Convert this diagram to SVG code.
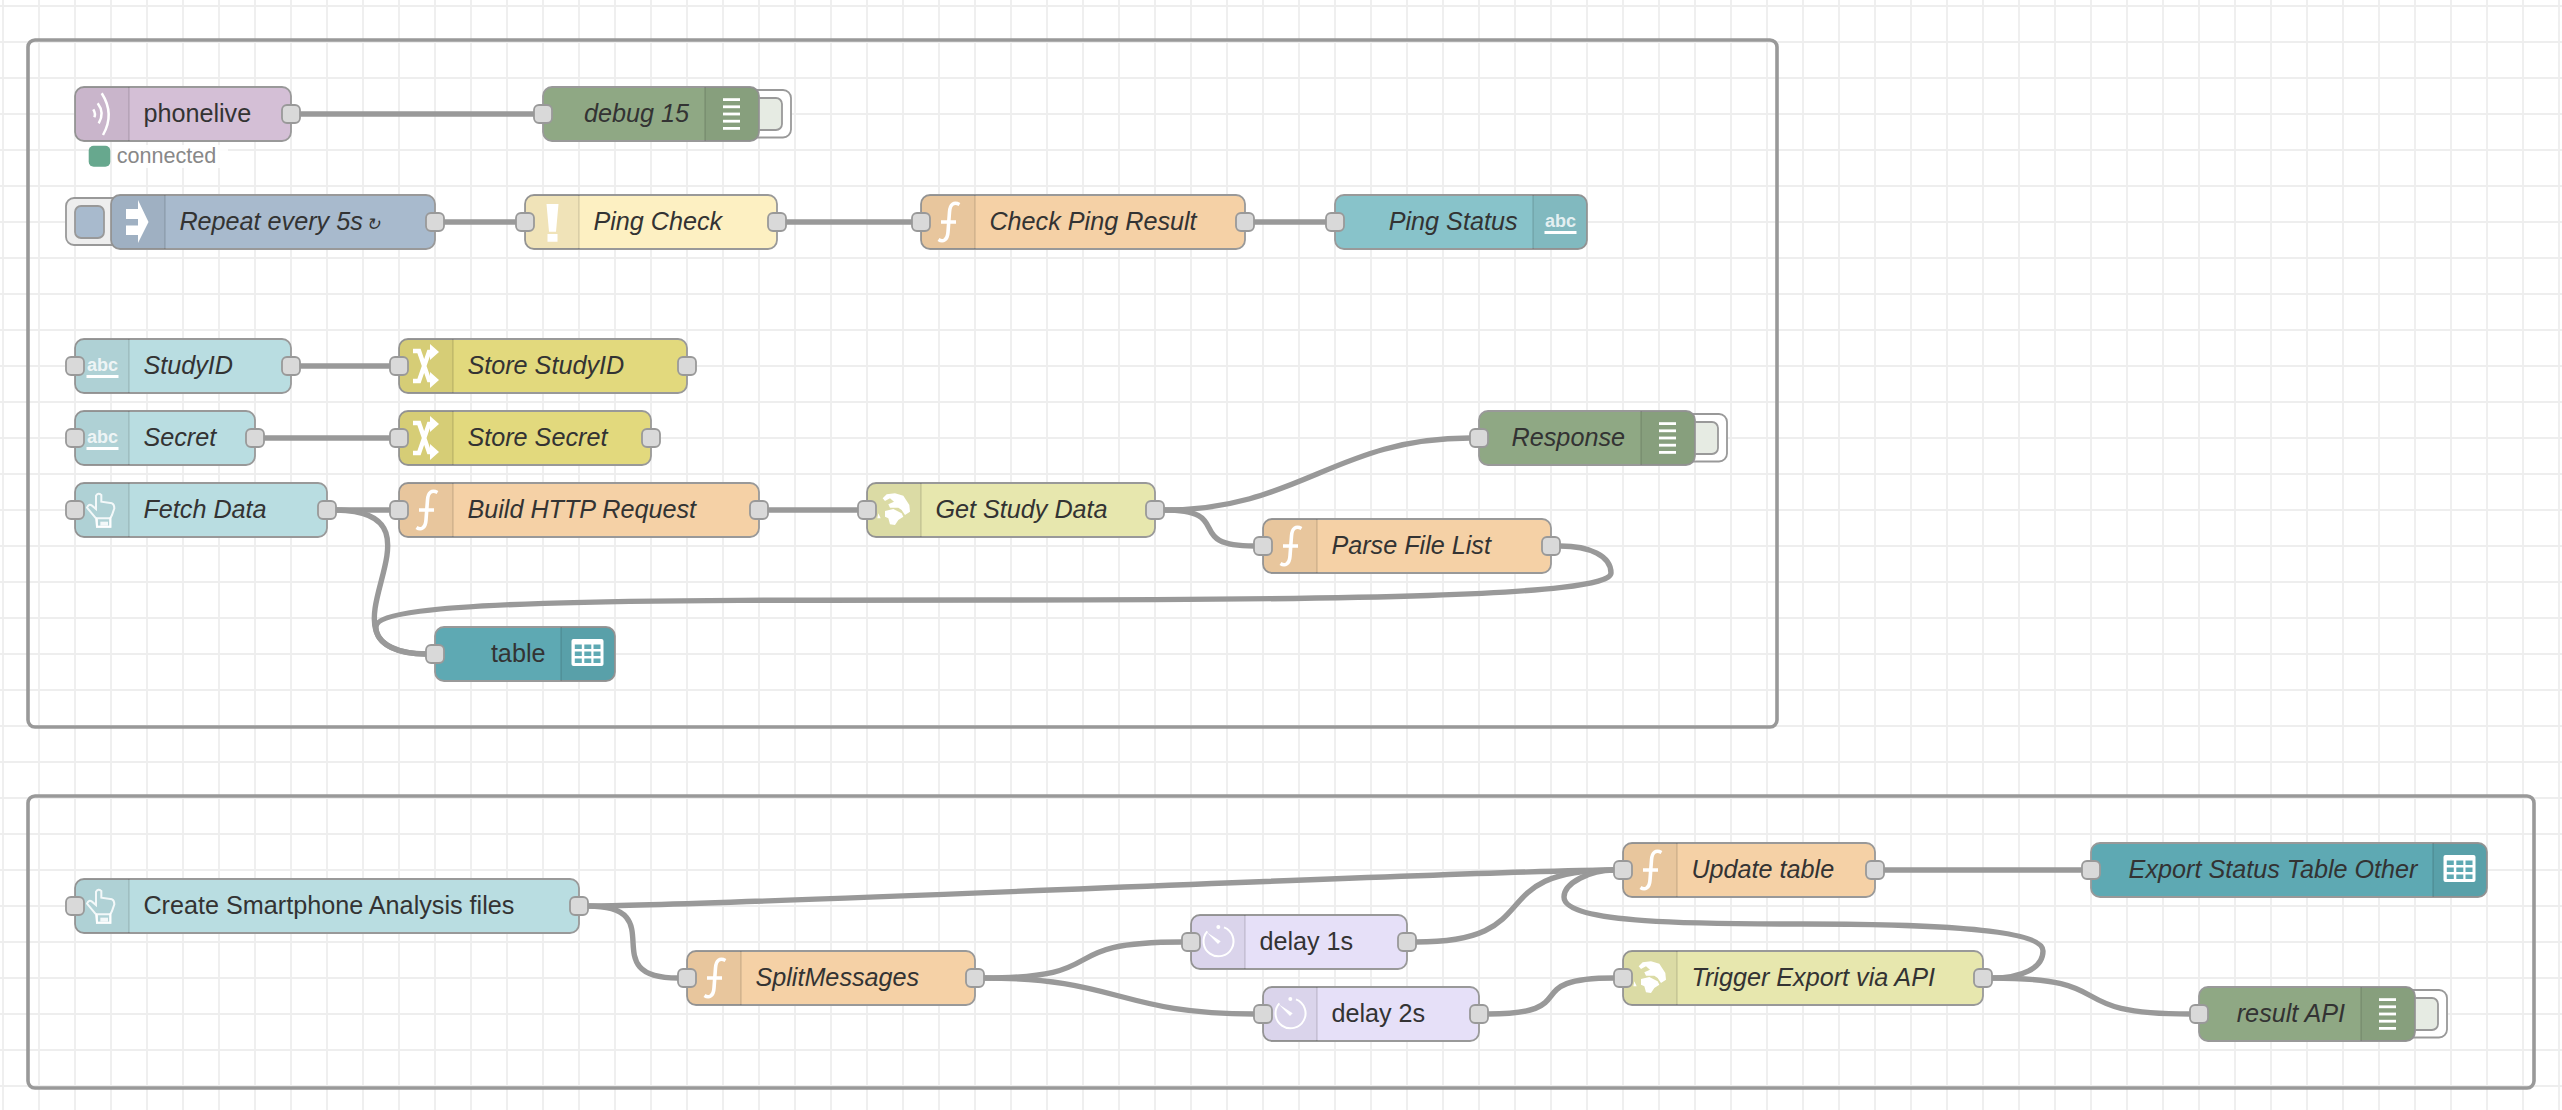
<svg xmlns="http://www.w3.org/2000/svg" xmlns:xlink="http://www.w3.org/1999/xlink" width="2562" height="1110" viewBox="0 0 2562 1110">
<style>
text{font-family:"Liberation Sans",Arial,sans-serif;font-size:25.2px;fill:#333}
.i{font-style:italic}
.box{stroke:#999;stroke-width:1.8}
.ic{fill:#000;fill-opacity:.05}
.dv{stroke:#000;stroke-opacity:.1;stroke-width:1.8}
.port{fill:#d9d9d9;stroke:#999;stroke-width:1.8}
.wire{fill:none;stroke:#999;stroke-width:5.4}
.frame{fill:none;stroke:#999;stroke-width:3.6}
.ln{stroke:#eee;stroke-width:1.8}
.wh{fill:#fff}
.abc{font-weight:bold;font-size:18px;fill:#fff;fill-opacity:.8}
.btnO{stroke:#999;stroke-width:1.8}
.btnI{stroke:#999;stroke-width:1.8}
</style>
<defs>
<path id="iconL" d="M9-27H54V27H9Q0 27 0 18V-18Q0-27 9-27Z"/>
<path id="iconR" d="M-9-27H-54V27H-9Q0 27 0 18V-18Q0-27-9-27Z"/>
<g id="fn"><path d="M38.5-17.5C33-20.5 29-18 28.500-10L27 10C26.500 18 22 20.500 17.500 17.500M20 0H35" fill="none" stroke="#fff" stroke-width="3.600"/></g>
<g id="shuffle" fill="none" stroke="#fff" stroke-width="4.500"><path d="M14-15H20L30 14H33M14 15H20L30-14H33"/><path d="M31-22L40-14L31-6ZM31 6L40 14L31 22Z" fill="#fff" stroke="none"/></g>
<g id="hand"><g transform="translate(-3,-25) scale(.3333)"><path d="M72 32Q78 22 88 30L88 50L120 55Q127 58 127 70L120 90L115 100V125H75L72 100L45 68Q50 55 60 62L72 72Z" fill="none" stroke="#fff" stroke-opacity=".85" stroke-width="6"/><path d="M75 100H115V125H75Z" fill="none" stroke="#fff" stroke-opacity=".85" stroke-width="6"/><path d="M85 110H108V122H85Z" fill="#fff" fill-opacity=".85"/></g></g>
<g id="globe"><g transform="translate(3,-25) scale(.3333)"><path d="M38 40L50 28L75 25L100 32L118 60L120 80L105 90L95 75L85 68L60 68L55 58L72 50L60 40L45 48Z" fill="#fff"/><path d="M45 78L70 72L95 85L100 95L85 105L75 120L60 118L55 100L45 95Z" fill="#fff"/><path d="M25 85L32 100L22 100Z" fill="#fff"/></g></g>
<g id="clock"><g transform="translate(-1,-24) scale(.3333)"><path d="M102 28A45 45 0 1 1 52 40" fill="none" stroke="#fff" stroke-width="6"/><circle cx="85" cy="27" r="6" fill="#fff"/><path d="M50 43L92 70L84 78Z" fill="#fff"/></g></g>
<g id="bars" fill="#fff"><rect x="18" y="-15.800" width="17" height="2.800"/><rect x="18" y="-8.600" width="17" height="2.800"/><rect x="18" y="-1.400" width="17" height="2.800"/><rect x="18" y="5.800" width="17" height="2.800"/><rect x="18" y="13" width="17" height="2.800"/></g>
</defs>
<rect width="2562" height="1110" fill="#fff"/>
<g id="grid" class="ln">
<path d="M3 0V1110M39 0V1110M75 0V1110M111 0V1110M147 0V1110M183 0V1110M219 0V1110M255 0V1110M291 0V1110M327 0V1110M363 0V1110M399 0V1110M435 0V1110M471 0V1110M507 0V1110M543 0V1110M579 0V1110M615 0V1110M651 0V1110M687 0V1110M723 0V1110M759 0V1110M795 0V1110M831 0V1110M867 0V1110M903 0V1110M939 0V1110M975 0V1110M1011 0V1110M1047 0V1110M1083 0V1110M1119 0V1110M1155 0V1110M1191 0V1110M1227 0V1110M1263 0V1110M1299 0V1110M1335 0V1110M1371 0V1110M1407 0V1110M1443 0V1110M1479 0V1110M1515 0V1110M1551 0V1110M1587 0V1110M1623 0V1110M1659 0V1110M1695 0V1110M1731 0V1110M1767 0V1110M1803 0V1110M1839 0V1110M1875 0V1110M1911 0V1110M1947 0V1110M1983 0V1110M2019 0V1110M2055 0V1110M2091 0V1110M2127 0V1110M2163 0V1110M2199 0V1110M2235 0V1110M2271 0V1110M2307 0V1110M2343 0V1110M2379 0V1110M2415 0V1110M2451 0V1110M2487 0V1110M2523 0V1110M2559 0V1110"/>
<path d="M0 6H2562M0 42H2562M0 78H2562M0 114H2562M0 150H2562M0 186H2562M0 222H2562M0 258H2562M0 294H2562M0 330H2562M0 366H2562M0 402H2562M0 438H2562M0 474H2562M0 510H2562M0 546H2562M0 582H2562M0 618H2562M0 654H2562M0 690H2562M0 726H2562M0 762H2562M0 798H2562M0 834H2562M0 870H2562M0 906H2562M0 942H2562M0 978H2562M0 1014H2562M0 1050H2562M0 1086H2562"/>
</g>
<g id="groups">
<rect class="frame" x="28" y="40" width="1749" height="687" rx="7"/>
<rect class="frame" x="28" y="796" width="2506" height="292" rx="7"/>
</g>
<g id="connectors">
<path class="wire" d="M300 114H534"/>
<path class="wire" d="M444 222H516"/>
<path class="wire" d="M786 222H912"/>
<path class="wire" d="M1254 222H1326"/>
<path class="wire" d="M300 366H390"/>
<path class="wire" d="M264 438H390"/>
<path class="wire" d="M336 510H390"/>
<path class="wire" d="M336 510C463.500 511.500 298.500 652.500 426 654"/>
<path class="wire" d="M768 510H858"/>
<path class="wire" d="M1164 510C1299 510 1335 438 1470 438"/>
<path class="wire" d="M1164 510C1236.700 510 1181.300 546 1254 546"/>
<path class="wire" d="M1560 546C1590 546 1611 556 1611 573C1611 597 1330 600 993 600C620 600 376 600 376 627C376 645 400 654 426 654"/>
<path class="wire" d="M588 906C723 906 1479 870 1614 870"/>
<path class="wire" d="M588 906C674.200 906 591.800 978 678 978"/>
<path class="wire" d="M984 978C1119 978 1047 942 1182 942"/>
<path class="wire" d="M984 978C1119 978 1119 1014 1254 1014"/>
<path class="wire" d="M1416 942C1551 942 1479 870 1614 870"/>
<path class="wire" d="M1488 1014C1586.200 1014 1515.800 978 1614 978"/>
<path class="wire" d="M1992 978C2022 978 2043 968 2043 951C2043 932 1960 924 1803 924C1700 924 1564 924 1564 897C1564 883 1590 870 1614 870"/>
<path class="wire" d="M1992 978C2127 978 2055 1014 2190 1014"/>
<path class="wire" d="M1884 870H2082"/>
</g>
<g id="n-phonelive" transform="translate(75,114)">
<rect class="box" y="-27" width="216" height="54" rx="9" fill="#d4bfd6"/><use href="#iconL" class="ic"/><path class="dv" d="M54-27V27"/>
<path d="M26.700-20.700Q40 0 28 21M22.700-10.700Q30-1 23.700 9.300M18.300-4.700Q21 0 19.300 3.300" fill="none" stroke="#fff" stroke-width="2.500"/>
<text x="68.400" y="8">phonelive</text><rect class="port" x="207" y="-9" width="18" height="18" rx="5"/>
<rect x="37" y="31" width="116" height="23" fill="#fff" fill-opacity=".85"/>
<rect x="13.700" y="31.700" width="21.600" height="21" rx="5" fill="#67a88e"/>
<text x="41.700" y="49.300" style="font-size:21.600px;fill:#888">connected</text>
</g>
<g id="n-debug15" transform="translate(543,114)">
<rect x="200" y="-24" width="48" height="47.500" rx="8" fill="#fff" class="btnO"/><rect x="200" y="-16" width="39" height="32" rx="6" fill="#e6ebe3" class="btnI"/>
<rect class="box" y="-27" width="216" height="54" rx="9" fill="#8fa884"/><use href="#iconR" x="216" class="ic"/><path class="dv" d="M162-27V27"/><use href="#bars" x="162"/>
<text class="i" x="146" y="8" text-anchor="end">debug 15</text><rect class="port" x="-9" y="-9" width="18" height="18" rx="5"/>
</g>
<g id="n-repeat" transform="translate(111,222)">
<rect x="-45" y="-24" width="60" height="47" rx="8" fill="#eee" class="btnO"/><rect x="-36" y="-16" width="29" height="32" rx="6" fill="#a8bacd" class="btnI"/>
<rect class="box" y="-27" width="324" height="54" rx="9" fill="#a8bacd"/><use href="#iconL" class="ic"/><path class="dv" d="M54-27V27"/>
<path class="wh" d="M15-13H27V-22L37.500 0L27 21V13H15V3.500H27V-3H15Z"/>
<text class="i" x="68.400" y="8">Repeat every 5s <tspan dx="-4" style="font-size:17px">↻</tspan></text><rect class="port" x="315" y="-9" width="18" height="18" rx="5"/>
</g>
<g id="n-pingcheck" transform="translate(525,222)">
<rect class="box" y="-27" width="252" height="54" rx="9" fill="#fdf0c2"/><use href="#iconL" class="ic"/><path class="dv" d="M54-27V27"/>
<path class="wh" d="M21.500-18H33.500L31 9.700H24ZM22.500 12H32.500V19.700H22.500Z"/>
<text class="i" x="68.400" y="8">Ping Check</text><rect class="port" x="-9" y="-9" width="18" height="18" rx="5"/><rect class="port" x="243" y="-9" width="18" height="18" rx="5"/>
</g>
<g id="n-checkping" transform="translate(921,222)">
<rect class="box" y="-27" width="324" height="54" rx="9" fill="#f5d1a6"/><use href="#iconL" class="ic"/><path class="dv" d="M54-27V27"/><use href="#fn"/>
<text class="i" x="68.400" y="8">Check Ping Result</text><rect class="port" x="-9" y="-9" width="18" height="18" rx="5"/><rect class="port" x="315" y="-9" width="18" height="18" rx="5"/>
</g>
<g id="n-pingstatus" transform="translate(1335,222)">
<rect class="box" y="-27" width="252" height="54" rx="9" fill="#88c3ca"/><use href="#iconR" x="252" class="ic"/><path class="dv" d="M198-27V27"/>
<text class="abc" x="210" y="5">abc</text><rect class="wh" x="209.500" y="9" width="32" height="3"/>
<text class="i" x="182.500" y="8" text-anchor="end">Ping Status</text><rect class="port" x="-9" y="-9" width="18" height="18" rx="5"/>
</g>
<g id="n-studyid" transform="translate(75,366)">
<rect class="box" y="-27" width="216" height="54" rx="9" fill="#b9dde1"/><use href="#iconL" class="ic"/><path class="dv" d="M54-27V27"/>
<text class="abc" x="12" y="5">abc</text><rect class="wh" x="11.500" y="9" width="32" height="3"/>
<text class="i" x="68.400" y="8">StudyID</text><rect class="port" x="-9" y="-9" width="18" height="18" rx="5"/><rect class="port" x="207" y="-9" width="18" height="18" rx="5"/>
</g>
<g id="n-storestudyid" transform="translate(399,366)">
<rect class="box" y="-27" width="288" height="54" rx="9" fill="#e2d97d"/><use href="#iconL" class="ic"/><path class="dv" d="M54-27V27"/><use href="#shuffle"/>
<text class="i" x="68.400" y="8">Store StudyID</text><rect class="port" x="-9" y="-9" width="18" height="18" rx="5"/><rect class="port" x="279" y="-9" width="18" height="18" rx="5"/>
</g>
<g id="n-secret" transform="translate(75,438)">
<rect class="box" y="-27" width="180" height="54" rx="9" fill="#b9dde1"/><use href="#iconL" class="ic"/><path class="dv" d="M54-27V27"/>
<text class="abc" x="12" y="5">abc</text><rect class="wh" x="11.500" y="9" width="32" height="3"/>
<text class="i" x="68.400" y="8">Secret</text><rect class="port" x="-9" y="-9" width="18" height="18" rx="5"/><rect class="port" x="171" y="-9" width="18" height="18" rx="5"/>
</g>
<g id="n-storesecret" transform="translate(399,438)">
<rect class="box" y="-27" width="252" height="54" rx="9" fill="#e2d97d"/><use href="#iconL" class="ic"/><path class="dv" d="M54-27V27"/><use href="#shuffle"/>
<text class="i" x="68.400" y="8">Store Secret</text><rect class="port" x="-9" y="-9" width="18" height="18" rx="5"/><rect class="port" x="243" y="-9" width="18" height="18" rx="5"/>
</g>
<g id="n-fetchdata" transform="translate(75,510)">
<rect class="box" y="-27" width="252" height="54" rx="9" fill="#b9dde1"/><use href="#iconL" class="ic"/><path class="dv" d="M54-27V27"/><use href="#hand"/>
<text class="i" x="68.400" y="8">Fetch Data</text><rect class="port" x="-9" y="-9" width="18" height="18" rx="5"/><rect class="port" x="243" y="-9" width="18" height="18" rx="5"/>
</g>
<g id="n-build" transform="translate(399,510)">
<rect class="box" y="-27" width="360" height="54" rx="9" fill="#f5d1a6"/><use href="#iconL" class="ic"/><path class="dv" d="M54-27V27"/><use href="#fn"/>
<text class="i" x="68.400" y="8">Build HTTP Request</text><rect class="port" x="-9" y="-9" width="18" height="18" rx="5"/><rect class="port" x="351" y="-9" width="18" height="18" rx="5"/>
</g>
<g id="n-getstudy" transform="translate(867,510)">
<rect class="box" y="-27" width="288" height="54" rx="9" fill="#e7e7ae"/><use href="#iconL" class="ic"/><path class="dv" d="M54-27V27"/><use href="#globe"/>
<text class="i" x="68.400" y="8">Get Study Data</text><rect class="port" x="-9" y="-9" width="18" height="18" rx="5"/><rect class="port" x="279" y="-9" width="18" height="18" rx="5"/>
</g>
<g id="n-response" transform="translate(1479,438)">
<rect x="200" y="-24" width="48" height="47.500" rx="8" fill="#fff" class="btnO"/><rect x="200" y="-16" width="39" height="32" rx="6" fill="#e6ebe3" class="btnI"/>
<rect class="box" y="-27" width="216" height="54" rx="9" fill="#8fa884"/><use href="#iconR" x="216" class="ic"/><path class="dv" d="M162-27V27"/><use href="#bars" x="162"/>
<text class="i" x="146" y="8" text-anchor="end">Response</text><rect class="port" x="-9" y="-9" width="18" height="18" rx="5"/>
</g>
<g id="n-parse" transform="translate(1263,546)">
<rect class="box" y="-27" width="288" height="54" rx="9" fill="#f5d1a6"/><use href="#iconL" class="ic"/><path class="dv" d="M54-27V27"/><use href="#fn"/>
<text class="i" x="68.400" y="8">Parse File List</text><rect class="port" x="-9" y="-9" width="18" height="18" rx="5"/><rect class="port" x="279" y="-9" width="18" height="18" rx="5"/>
</g>
<g id="n-table" transform="translate(435,654)">
<rect class="box" y="-27" width="180" height="54" rx="9" fill="#5ea9b3"/><use href="#iconR" x="180" class="ic"/><path class="dv" d="M126-27V27"/>
<rect class="wh" x="136.500" y="-15" width="32" height="27" rx="2"/>
<path fill="#5ea9b3" d="M139.800-9.500h7v4.500h-7zM149.300-9.500h7v4.500h-7zM158.500-9.500h7v4.500h-7zM139.800-2.500h7v4.500h-7zM149.300-2.500h7v4.500h-7zM158.500-2.500h7v4.500h-7zM139.800 4.500h7v4.500h-7zM149.300 4.500h7v4.500h-7zM158.500 4.500h7v4.500h-7z"/>
<text x="110.500" y="8" text-anchor="end">table</text><rect class="port" x="-9" y="-9" width="18" height="18" rx="5"/>
</g>
<g id="n-create" transform="translate(75,906)">
<rect class="box" y="-27" width="504" height="54" rx="9" fill="#b9dde1"/><use href="#iconL" class="ic"/><path class="dv" d="M54-27V27"/><use href="#hand"/>
<text x="68.400" y="8">Create Smartphone Analysis files</text><rect class="port" x="-9" y="-9" width="18" height="18" rx="5"/><rect class="port" x="495" y="-9" width="18" height="18" rx="5"/>
</g>
<g id="n-split" transform="translate(687,978)">
<rect class="box" y="-27" width="288" height="54" rx="9" fill="#f5d1a6"/><use href="#iconL" class="ic"/><path class="dv" d="M54-27V27"/><use href="#fn"/>
<text class="i" x="68.400" y="8">SplitMessages</text><rect class="port" x="-9" y="-9" width="18" height="18" rx="5"/><rect class="port" x="279" y="-9" width="18" height="18" rx="5"/>
</g>
<g id="n-delay1" transform="translate(1191,942)">
<rect class="box" y="-27" width="216" height="54" rx="9" fill="#e6e0f8"/><use href="#iconL" class="ic"/><path class="dv" d="M54-27V27"/><use href="#clock"/>
<text x="68.400" y="8">delay 1s</text><rect class="port" x="-9" y="-9" width="18" height="18" rx="5"/><rect class="port" x="207" y="-9" width="18" height="18" rx="5"/>
</g>
<g id="n-delay2" transform="translate(1263,1014)">
<rect class="box" y="-27" width="216" height="54" rx="9" fill="#e6e0f8"/><use href="#iconL" class="ic"/><path class="dv" d="M54-27V27"/><use href="#clock"/>
<text x="68.400" y="8">delay 2s</text><rect class="port" x="-9" y="-9" width="18" height="18" rx="5"/><rect class="port" x="207" y="-9" width="18" height="18" rx="5"/>
</g>
<g id="n-update" transform="translate(1623,870)">
<rect class="box" y="-27" width="252" height="54" rx="9" fill="#f5d1a6"/><use href="#iconL" class="ic"/><path class="dv" d="M54-27V27"/><use href="#fn"/>
<text class="i" x="68.400" y="8">Update table</text><rect class="port" x="-9" y="-9" width="18" height="18" rx="5"/><rect class="port" x="243" y="-9" width="18" height="18" rx="5"/>
</g>
<g id="n-trigger" transform="translate(1623,978)">
<rect class="box" y="-27" width="360" height="54" rx="9" fill="#e7e7ae"/><use href="#iconL" class="ic"/><path class="dv" d="M54-27V27"/><use href="#globe"/>
<text class="i" x="68.400" y="8">Trigger Export via API</text><rect class="port" x="-9" y="-9" width="18" height="18" rx="5"/><rect class="port" x="351" y="-9" width="18" height="18" rx="5"/>
</g>
<g id="n-export" transform="translate(2091,870)">
<rect class="box" y="-27" width="396" height="54" rx="9" fill="#5ea9b3"/><use href="#iconR" x="396" class="ic"/><path class="dv" d="M342-27V27"/>
<rect class="wh" x="352.500" y="-15" width="32" height="27" rx="2"/>
<path fill="#5ea9b3" d="M355.800-9.500h7v4.500h-7zM365.300-9.500h7v4.500h-7zM374.500-9.500h7v4.500h-7zM355.800-2.500h7v4.500h-7zM365.300-2.500h7v4.500h-7zM374.500-2.500h7v4.500h-7zM355.800 4.500h7v4.500h-7zM365.300 4.500h7v4.500h-7zM374.500 4.500h7v4.500h-7z"/>
<text class="i" x="326.500" y="8" text-anchor="end">Export Status Table Other</text><rect class="port" x="-9" y="-9" width="18" height="18" rx="5"/>
</g>
<g id="n-result" transform="translate(2199,1014)">
<rect x="200" y="-24" width="48" height="47.500" rx="8" fill="#fff" class="btnO"/><rect x="200" y="-16" width="39" height="32" rx="6" fill="#e6ebe3" class="btnI"/>
<rect class="box" y="-27" width="216" height="54" rx="9" fill="#8fa884"/><use href="#iconR" x="216" class="ic"/><path class="dv" d="M162-27V27"/><use href="#bars" x="162"/>
<text class="i" x="146" y="8" text-anchor="end">result API</text><rect class="port" x="-9" y="-9" width="18" height="18" rx="5"/>
</g>
</svg>
